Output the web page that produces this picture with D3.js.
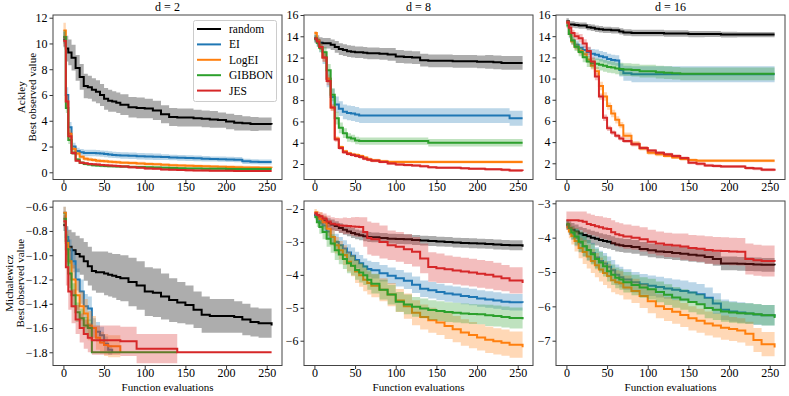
<!DOCTYPE html>
<html><head><meta charset="utf-8">
<script src="https://cdn.jsdelivr.net/npm/d3@7"></script>
<style>body{margin:0;background:#fff} svg text{font-family:'Liberation Serif','Times New Roman',Times,'DejaVu Serif',serif !important;fill:#000}</style>
</head><body><svg id="c" width="789" height="396"></svg>
<script>
const evals=[0,3,6,10,15,20,25,30,35,40,45,50,55,60,65,70,80,90,100,110,120,130,140,150,160,170,180,190,200,210,220,230,240,256];
const methods=["random","EI","LogEI","GIBBON","JES"];
const colors=["#000000","#1f77b4","#ff7f0e","#2ca02c","#d62728"];
const dimTitles=["d = 2","d = 8","d = 16"];
const funcNames=["Ackley","Michalewicz"];
const xTicks=[0,50,100,150,200,250];
const yTicksAckley2=[0,2,4,6,8,10,12];
const yTicksAckley8=[2,4,6,8,10,12,14,16];
const yTicksAckley16=[2,4,6,8,10,12,14,16];
const yTicksMich2=[-1.8,-1.6,-1.4,-1.2,-1.0,-0.8,-0.6];
const yTicksMich8=[-6,-5,-4,-3,-2];
const yTicksMich16=[-7,-6,-5,-4,-3];

// Ackley d=2 (means, half-widths) in order random, EI, LogEI, GIBBON, JES
const ack2Mean=[
[10.3,9.6,9.3,8.9,8.1,7.4,6.7,6.6,6.4,6.25,6.0,5.7,5.55,5.5,5.4,5.25,5.05,5.0,4.95,4.8,4.5,4.3,4.25,4.25,4.2,4.15,4.1,4.05,3.95,3.85,3.8,3.75,3.75,3.7],
[10.5,6.0,3.5,2.0,1.65,1.55,1.5,1.5,1.5,1.48,1.45,1.42,1.38,1.35,1.33,1.3,1.28,1.25,1.22,1.2,1.18,1.15,1.12,1.1,1.08,1.05,1.03,1.02,1.0,0.98,0.85,0.82,0.8,0.8],
[11.0,5.5,3.0,1.8,1.45,1.2,1.05,1.0,0.95,0.9,0.88,0.85,0.82,0.8,0.78,0.75,0.72,0.68,0.65,0.62,0.58,0.55,0.52,0.5,0.48,0.46,0.45,0.43,0.42,0.4,0.38,0.37,0.36,0.35],
[10.5,5.0,2.5,1.5,1.0,0.75,0.65,0.6,0.55,0.52,0.5,0.48,0.47,0.46,0.45,0.44,0.42,0.41,0.4,0.38,0.36,0.34,0.32,0.3,0.29,0.28,0.27,0.27,0.26,0.26,0.25,0.25,0.25,0.25],
[10.2,5.5,2.8,1.5,0.9,0.75,0.7,0.65,0.62,0.6,0.57,0.55,0.53,0.5,0.48,0.45,0.4,0.35,0.3,0.27,0.22,0.2,0.18,0.15,0.14,0.13,0.12,0.12,0.11,0.1,0.1,0.1,0.1,0.1]];
const ack2Err=[
[0.6,1.0,1.0,1.0,1.0,1.0,0.95,0.9,0.9,0.9,0.85,0.85,0.85,0.8,0.8,0.8,0.8,0.8,0.75,0.75,0.7,0.7,0.7,0.7,0.65,0.65,0.65,0.6,0.6,0.6,0.55,0.55,0.5,0.5],
[0.5,0.6,0.4,0.3,0.25,0.25,0.25,0.25,0.25,0.25,0.25,0.25,0.25,0.25,0.25,0.25,0.25,0.25,0.25,0.25,0.22,0.22,0.22,0.22,0.22,0.22,0.2,0.2,0.2,0.2,0.2,0.2,0.2,0.2],
[0.6,0.5,0.3,0.2,0.15,0.15,0.15,0.15,0.15,0.15,0.14,0.14,0.14,0.14,0.13,0.13,0.13,0.13,0.13,0.12,0.12,0.12,0.12,0.12,0.12,0.12,0.12,0.12,0.12,0.12,0.12,0.12,0.12,0.12],
[0.5,0.4,0.3,0.15,0.1,0.1,0.1,0.1,0.1,0.1,0.1,0.1,0.1,0.1,0.1,0.1,0.1,0.1,0.1,0.1,0.1,0.1,0.1,0.1,0.1,0.1,0.1,0.1,0.1,0.1,0.1,0.1,0.1,0.1],
[0.4,0.5,0.3,0.15,0.1,0.1,0.1,0.1,0.1,0.1,0.1,0.1,0.1,0.1,0.1,0.1,0.1,0.1,0.1,0.1,0.08,0.08,0.08,0.08,0.08,0.08,0.08,0.08,0.08,0.08,0.08,0.08,0.08,0.08]];

// Ackley d=8
const ack8Mean=[
[13.8,13.6,13.4,13.35,13.35,13.2,13.0,12.8,12.7,12.6,12.55,12.5,12.5,12.45,12.4,12.4,12.35,12.3,12.1,12.05,12.0,11.75,11.7,11.7,11.7,11.65,11.65,11.65,11.6,11.6,11.55,11.5,11.5,11.5],
[13.8,13.4,13.0,12.0,10.0,8.3,7.6,7.2,6.9,6.8,6.75,6.65,6.55,6.55,6.55,6.55,6.55,6.55,6.55,6.55,6.55,6.55,6.55,6.55,6.55,6.55,6.55,6.55,6.55,6.55,6.55,6.55,6.3,6.3],
[14.3,13.6,13.0,12.0,10.0,7.3,4.4,3.6,3.2,3.0,2.9,2.85,2.75,2.6,2.45,2.35,2.25,2.2,2.2,2.2,2.2,2.2,2.2,2.2,2.2,2.2,2.2,2.2,2.2,2.2,2.2,2.2,2.2,2.2],
[13.8,13.4,12.9,12.5,10.8,8.5,6.3,5.4,4.9,4.5,4.4,4.2,4.15,4.15,4.15,4.15,4.15,4.15,4.15,4.15,4.15,4.15,4.0,4.0,4.0,4.0,4.0,4.0,4.0,4.0,4.0,4.0,4.0,4.0],
[13.8,13.5,13.0,12.0,9.8,7.3,4.3,3.5,3.1,2.95,2.85,2.75,2.65,2.5,2.4,2.3,2.2,2.05,1.95,1.9,1.85,1.8,1.7,1.65,1.65,1.65,1.6,1.55,1.55,1.5,1.5,1.45,1.4,1.35]];
const ack8Err=[
[0.4,0.5,0.5,0.5,0.5,0.5,0.55,0.55,0.55,0.55,0.55,0.55,0.55,0.55,0.55,0.55,0.55,0.6,0.6,0.6,0.6,0.6,0.6,0.6,0.6,0.6,0.6,0.6,0.6,0.65,0.65,0.65,0.65,0.65],
[0.3,0.4,0.5,0.6,0.8,0.8,0.75,0.7,0.7,0.7,0.7,0.7,0.7,0.7,0.7,0.7,0.7,0.7,0.7,0.7,0.7,0.7,0.7,0.7,0.7,0.7,0.7,0.7,0.7,0.7,0.7,0.7,0.7,0.7],
[0.2,0.3,0.3,0.4,0.4,0.3,0.2,0.15,0.15,0.15,0.15,0.15,0.15,0.15,0.15,0.15,0.15,0.15,0.15,0.15,0.15,0.15,0.15,0.15,0.15,0.15,0.15,0.15,0.15,0.15,0.15,0.15,0.15,0.15],
[0.3,0.4,0.4,0.5,0.6,0.6,0.6,0.5,0.45,0.4,0.35,0.35,0.35,0.35,0.35,0.35,0.35,0.35,0.35,0.35,0.35,0.35,0.35,0.35,0.35,0.35,0.35,0.35,0.35,0.35,0.35,0.35,0.35,0.35],
[0.2,0.3,0.3,0.4,0.4,0.3,0.2,0.15,0.15,0.15,0.15,0.15,0.15,0.15,0.15,0.14,0.14,0.13,0.13,0.13,0.12,0.12,0.12,0.12,0.12,0.12,0.12,0.12,0.12,0.12,0.12,0.12,0.12,0.12]];

// Ackley d=16
const ack16Mean=[
[15.4,15.1,15.1,15.05,15.0,15.0,14.85,14.8,14.7,14.65,14.6,14.6,14.55,14.55,14.45,14.35,14.3,14.3,14.3,14.3,14.25,14.25,14.25,14.2,14.2,14.2,14.2,14.15,14.15,14.15,14.15,14.15,14.15,14.15],
[15.3,14.2,13.6,13.2,12.9,12.7,12.5,12.35,12.25,12.1,12.0,11.85,11.75,11.7,10.8,10.5,10.4,10.4,10.4,10.4,10.4,10.4,10.4,10.4,10.4,10.4,10.4,10.4,10.4,10.4,10.4,10.4,10.4,10.4],
[15.3,14.2,13.5,13.0,12.6,12.3,11.8,11.2,10.7,9.3,8.3,7.4,6.7,6.1,5.6,4.6,3.85,3.4,3.0,2.85,2.7,2.55,2.4,2.3,2.25,2.25,2.25,2.25,2.25,2.25,2.25,2.25,2.25,2.25],
[15.0,14.2,13.6,13.0,12.5,12.0,11.6,11.45,11.4,11.3,11.2,11.1,11.05,10.95,10.9,10.85,10.8,10.7,10.7,10.6,10.55,10.5,10.45,10.45,10.45,10.45,10.45,10.45,10.45,10.45,10.45,10.45,10.45,10.45],
[15.3,14.8,14.3,14.0,13.8,13.3,12.6,11.6,10.2,8.3,6.3,5.3,4.9,4.6,4.35,4.1,3.8,3.45,3.2,3.0,2.85,2.7,2.5,2.05,1.95,1.8,1.75,1.7,1.7,1.7,1.55,1.5,1.4,1.3]];
const ack16Err=[
[0.3,0.3,0.3,0.3,0.3,0.3,0.3,0.3,0.3,0.3,0.3,0.3,0.3,0.3,0.3,0.3,0.3,0.3,0.3,0.3,0.3,0.3,0.3,0.3,0.3,0.28,0.28,0.28,0.28,0.25,0.25,0.25,0.25,0.25],
[0.2,0.4,0.4,0.4,0.4,0.4,0.45,0.45,0.5,0.5,0.5,0.5,0.5,0.5,0.6,0.7,0.75,0.75,0.75,0.75,0.75,0.75,0.75,0.75,0.75,0.75,0.75,0.75,0.75,0.75,0.75,0.75,0.75,0.75],
[0.2,0.3,0.3,0.3,0.3,0.3,0.3,0.35,0.4,0.4,0.4,0.35,0.35,0.35,0.3,0.3,0.25,0.2,0.2,0.18,0.15,0.15,0.15,0.15,0.15,0.15,0.15,0.15,0.15,0.15,0.15,0.15,0.15,0.15],
[0.2,0.3,0.35,0.4,0.4,0.45,0.5,0.5,0.5,0.55,0.55,0.55,0.55,0.55,0.6,0.6,0.6,0.6,0.6,0.6,0.6,0.6,0.6,0.6,0.6,0.6,0.6,0.6,0.6,0.6,0.6,0.6,0.6,0.6],
[0.2,0.25,0.3,0.35,0.4,0.4,0.4,0.4,0.35,0.3,0.3,0.25,0.2,0.2,0.2,0.18,0.18,0.15,0.15,0.15,0.15,0.15,0.15,0.15,0.15,0.15,0.15,0.15,0.15,0.15,0.15,0.15,0.15,0.15]];

// Michalewicz d=2
const mic2Mean=[
[-0.75,-0.88,-0.93,-0.96,-0.99,-1.01,-1.05,-1.09,-1.13,-1.14,-1.14,-1.15,-1.16,-1.17,-1.18,-1.19,-1.22,-1.25,-1.3,-1.31,-1.34,-1.37,-1.39,-1.41,-1.45,-1.49,-1.5,-1.5,-1.5,-1.51,-1.53,-1.55,-1.56,-1.58],
[-0.65,-0.85,-0.95,-1.05,-1.2,-1.3,-1.42,-1.44,-1.6,-1.63,-1.66,-1.73,-1.78,-1.8,null,null,null,null,null,null,null,null,null,null,null,null,null,null,null,null,null,null,null,null],
[-0.65,-0.9,-1.05,-1.2,-1.33,-1.42,-1.48,-1.58,-1.6,-1.68,-1.72,-1.74,-1.75,-1.75,-1.75,-1.8,null,null,null,null,null,null,null,null,null,null,null,null,null,null,null,null,null,null],
[-0.7,-0.95,-1.15,-1.33,-1.47,-1.52,-1.58,-1.6,-1.8,-1.8,-1.8,-1.8,-1.8,-1.8,-1.8,-1.8,-1.8,-1.8,-1.8,-1.8,-1.8,-1.8,-1.8,null,null,null,null,null,null,null,null,null,null,null],
[-0.72,-1.1,-1.3,-1.42,-1.53,-1.6,-1.65,-1.68,-1.7,-1.7,-1.7,-1.7,-1.7,-1.7,-1.7,-1.71,-1.71,-1.77,-1.77,-1.77,-1.77,-1.77,-1.8,-1.8,-1.8,-1.8,-1.8,-1.8,-1.8,-1.8,-1.8,-1.8,-1.8,-1.8]];
const mic2Err=[
[0.05,0.12,0.14,0.15,0.15,0.15,0.16,0.16,0.16,0.17,0.17,0.18,0.18,0.18,0.19,0.19,0.2,0.2,0.2,0.2,0.19,0.18,0.17,0.16,0.15,0.15,0.14,0.14,0.14,0.13,0.13,0.12,0.12,0.12],
[0.05,0.08,0.08,0.09,0.09,0.1,0.1,0.1,0.08,0.08,0.07,0.06,0.04,0.0,null,null,null,null,null,null,null,null,null,null,null,null,null,null,null,null,null,null,null,null],
[0.05,0.1,0.12,0.12,0.12,0.12,0.12,0.12,0.1,0.1,0.09,0.09,0.09,0.09,0.09,0.0,null,null,null,null,null,null,null,null,null,null,null,null,null,null,null,null,null,null],
[0.05,0.12,0.12,0.1,0.08,0.08,0.07,0.07,0.0,0.0,0.0,0.0,0.0,0.0,0.0,0.0,0.0,0.0,0.0,0.0,0.0,0.0,0.0,null,null,null,null,null,null,null,null,null,null,null],
[0.05,0.15,0.15,0.14,0.12,0.12,0.12,0.12,0.12,0.12,0.12,0.12,0.12,0.12,0.12,0.12,0.12,0.12,0.12,0.12,0.12,0.12,0.0,0.0,0.0,0.0,0.0,0.0,0.0,0.0,0.0,0.0,0.0,0.0]];

// Michalewicz d=8
const mic8Mean=[
[-2.18,-2.25,-2.3,-2.35,-2.42,-2.47,-2.52,-2.58,-2.63,-2.68,-2.73,-2.77,-2.8,-2.83,-2.85,-2.86,-2.88,-2.9,-2.91,-2.92,-2.94,-2.96,-2.97,-2.99,-3.0,-3.02,-3.03,-3.04,-3.05,-3.06,-3.08,-3.09,-3.1,-3.15],
[-2.18,-2.3,-2.42,-2.5,-2.68,-2.85,-3.0,-3.1,-3.2,-3.32,-3.42,-3.55,-3.65,-3.75,-3.82,-3.86,-3.95,-4.03,-4.1,-4.18,-4.3,-4.42,-4.47,-4.52,-4.57,-4.6,-4.64,-4.67,-4.72,-4.75,-4.78,-4.82,-4.83,-4.85],
[-2.1,-2.2,-2.3,-2.4,-2.6,-2.85,-3.1,-3.25,-3.4,-3.6,-3.72,-3.9,-4.01,-4.15,-4.25,-4.33,-4.45,-4.6,-4.78,-4.95,-5.15,-5.28,-5.38,-5.45,-5.55,-5.65,-5.75,-5.83,-5.9,-5.97,-6.02,-6.06,-6.12,-6.2],
[-2.24,-2.4,-2.55,-2.7,-2.9,-3.05,-3.25,-3.38,-3.52,-3.65,-3.72,-3.85,-3.93,-4.01,-4.15,-4.27,-4.45,-4.6,-4.82,-4.9,-4.97,-5.02,-5.07,-5.1,-5.13,-5.15,-5.17,-5.19,-5.2,-5.23,-5.25,-5.28,-5.31,-5.35],
[-2.13,-2.18,-2.22,-2.29,-2.38,-2.45,-2.47,-2.5,-2.51,-2.52,-2.53,-2.54,-2.55,-2.7,-2.88,-2.92,-3.0,-3.1,-3.15,-3.22,-3.3,-3.5,-3.76,-3.8,-3.83,-3.87,-3.9,-3.93,-3.97,-4.0,-4.05,-4.1,-4.17,-4.25]];
const mic8Err=[
[0.05,0.1,0.12,0.13,0.14,0.15,0.15,0.15,0.15,0.15,0.15,0.15,0.15,0.15,0.15,0.15,0.15,0.15,0.15,0.15,0.15,0.15,0.15,0.15,0.15,0.15,0.15,0.15,0.15,0.15,0.15,0.15,0.15,0.15],
[0.05,0.1,0.15,0.2,0.22,0.25,0.25,0.25,0.25,0.25,0.25,0.25,0.25,0.25,0.25,0.25,0.25,0.25,0.25,0.25,0.25,0.25,0.25,0.25,0.25,0.25,0.25,0.25,0.25,0.25,0.25,0.25,0.25,0.25],
[0.1,0.15,0.2,0.2,0.22,0.25,0.25,0.28,0.3,0.3,0.32,0.35,0.35,0.35,0.35,0.35,0.35,0.35,0.35,0.38,0.38,0.38,0.38,0.38,0.4,0.4,0.4,0.4,0.4,0.4,0.4,0.4,0.4,0.4],
[0.05,0.15,0.2,0.22,0.25,0.28,0.3,0.3,0.3,0.3,0.3,0.3,0.3,0.3,0.3,0.3,0.3,0.3,0.3,0.3,0.3,0.3,0.3,0.3,0.3,0.3,0.3,0.3,0.3,0.32,0.32,0.32,0.32,0.32],
[0.05,0.1,0.12,0.15,0.18,0.2,0.2,0.22,0.25,0.25,0.28,0.3,0.3,0.45,0.5,0.5,0.5,0.45,0.45,0.45,0.45,0.45,0.45,0.45,0.42,0.42,0.42,0.42,0.42,0.42,0.42,0.4,0.4,0.4]];

// Michalewicz d=16
const mic16Mean=[
[-3.63,-3.72,-3.77,-3.82,-3.88,-3.92,-3.96,-4.0,-4.03,-4.07,-4.1,-4.12,-4.16,-4.2,-4.22,-4.24,-4.27,-4.33,-4.37,-4.4,-4.42,-4.45,-4.47,-4.5,-4.52,-4.56,-4.62,-4.75,-4.75,-4.76,-4.77,-4.78,-4.79,-4.8],
[-3.63,-3.75,-3.87,-4.0,-4.15,-4.25,-4.37,-4.45,-4.58,-4.68,-4.75,-4.85,-4.95,-5.08,-5.15,-5.22,-5.3,-5.36,-5.4,-5.44,-5.48,-5.52,-5.55,-5.6,-5.65,-5.75,-5.92,-6.1,-6.15,-6.18,-6.21,-6.24,-6.26,-6.3],
[-3.68,-3.82,-3.95,-4.1,-4.3,-4.42,-4.55,-4.68,-4.8,-4.93,-5.03,-5.12,-5.24,-5.3,-5.33,-5.45,-5.55,-5.7,-5.85,-6.0,-6.08,-6.16,-6.25,-6.35,-6.42,-6.5,-6.56,-6.62,-6.66,-6.7,-6.8,-6.98,-7.1,-7.2],
[-3.6,-3.72,-3.85,-3.97,-4.12,-4.25,-4.36,-4.48,-4.62,-4.72,-4.83,-4.98,-5.08,-5.17,-5.22,-5.3,-5.38,-5.45,-5.5,-5.58,-5.66,-5.74,-5.8,-5.87,-5.94,-6.05,-6.1,-6.15,-6.18,-6.2,-6.21,-6.23,-6.26,-6.34],
[-3.49,-3.49,-3.49,-3.49,-3.51,-3.54,-3.6,-3.63,-3.67,-3.7,-3.73,-3.75,-3.84,-3.9,-3.93,-3.97,-4.0,-4.05,-4.12,-4.17,-4.21,-4.23,-4.26,-4.3,-4.32,-4.36,-4.38,-4.39,-4.4,-4.41,-4.62,-4.66,-4.68,-4.7]];
const mic16Err=[
[0.15,0.2,0.2,0.2,0.2,0.2,0.2,0.2,0.2,0.2,0.2,0.2,0.2,0.2,0.2,0.2,0.2,0.2,0.2,0.2,0.2,0.2,0.2,0.2,0.2,0.2,0.2,0.2,0.2,0.2,0.2,0.2,0.2,0.2],
[0.1,0.15,0.2,0.25,0.28,0.3,0.3,0.3,0.3,0.3,0.3,0.3,0.3,0.3,0.3,0.3,0.3,0.3,0.3,0.3,0.3,0.3,0.3,0.3,0.3,0.3,0.3,0.3,0.3,0.3,0.3,0.3,0.3,0.3],
[0.1,0.2,0.25,0.3,0.3,0.35,0.35,0.35,0.35,0.35,0.35,0.35,0.35,0.35,0.35,0.35,0.35,0.35,0.35,0.35,0.35,0.35,0.35,0.35,0.35,0.35,0.35,0.35,0.35,0.35,0.35,0.35,0.35,0.35],
[0.1,0.15,0.2,0.25,0.3,0.3,0.3,0.3,0.3,0.3,0.3,0.3,0.3,0.3,0.3,0.3,0.3,0.3,0.3,0.3,0.3,0.3,0.3,0.3,0.3,0.3,0.3,0.3,0.3,0.3,0.3,0.3,0.3,0.3],
[0.25,0.25,0.25,0.25,0.27,0.3,0.3,0.3,0.3,0.32,0.32,0.32,0.35,0.35,0.35,0.35,0.35,0.35,0.35,0.35,0.35,0.35,0.38,0.38,0.38,0.4,0.4,0.4,0.4,0.4,0.45,0.45,0.45,0.45]];

const panels=[
 {row:0,col:0,mean:ack2Mean,err:ack2Err,ticks:yTicksAckley2,dom:[-0.56,12.21],fmt:d3.format("d")},
 {row:0,col:1,mean:ack8Mean,err:ack8Err,ticks:yTicksAckley8,dom:[0.544,16.0],fmt:d3.format("d")},
 {row:0,col:2,mean:ack16Mean,err:ack16Err,ticks:yTicksAckley16,dom:[0.47,16.0],fmt:d3.format("d")},
 {row:1,col:0,mean:mic2Mean,err:mic2Err,ticks:yTicksMich2,dom:[-1.909,-0.553],fmt:d3.format(".1f")},
 {row:1,col:1,mean:mic8Mean,err:mic8Err,ticks:yTicksMich8,dom:[-6.753,-1.757],fmt:d3.format("d")},
 {row:1,col:2,mean:mic16Mean,err:mic16Err,ticks:yTicksMich16,dom:[-7.722,-2.933],fmt:d3.format("d")}
];

const FONT="'Liberation Serif','Times New Roman',Times,'DejaVu Serif',serif";
const svg=d3.select("#c").attr("font-family",FONT);
const colLeft=[53,304,556], pw=229;
const rowTop=[15,201], ph=164.5;
const minus=s=>s.replace("-","\u2212");

panels.forEach((p,pi)=>{
  const x0=colLeft[p.col], y0=rowTop[p.row];
  const x=d3.scaleLinear().domain([-12.8,268.8]).range([x0,x0+pw]);
  const y=d3.scaleLinear().domain(p.dom).range([y0+ph,y0]);
  const cid="clip"+pi;
  svg.append("clipPath").attr("id",cid).append("rect").attr("x",x0).attr("y",y0).attr("width",pw).attr("height",ph);
  const g=svg.append("g").attr("clip-path",`url(#${cid})`);
  methods.forEach((m,mi)=>{
    const data=evals.map((e,i)=>({e,v:p.mean[mi][i],s:p.err[mi][i]}));
    const area=d3.area().defined(d=>d.v!=null).curve(d3.curveStepAfter)
      .x(d=>x(d.e)).y0(d=>y(d.v-d.s)).y1(d=>y(d.v+d.s));
    const line=d3.line().defined(d=>d.v!=null).curve(d3.curveStepAfter)
      .x(d=>x(d.e)).y(d=>y(d.v));
    g.append("path").datum(data).attr("d",area).attr("fill",colors[mi]).attr("fill-opacity",mi===0?0.32:0.3);
    g.append("path").datum(data).attr("d",line).attr("fill","none").attr("stroke",colors[mi]).attr("stroke-width",2);
  });
  const ax=svg.append("g").attr("transform",`translate(0,${y0+ph})`)
    .call(d3.axisBottom(x).tickValues(xTicks).tickSize(3.5).tickPadding(1).tickFormat(d3.format("d")));
  ax.selectAll("text").attr("dy","0.62em");
  const ay=svg.append("g").attr("transform",`translate(${x0},0)`)
    .call(d3.axisLeft(y).tickValues(p.ticks).tickSize(3.5).tickPadding(2).tickFormat(d=>minus(p.fmt(d))));
  [ax,ay].forEach(a=>{a.attr("font-family",FONT).attr("font-size",12);
    a.select(".domain").remove();
    a.selectAll("text").attr("fill","#000");
    a.selectAll("line").attr("stroke","#333");});
  svg.append("rect").attr("x",x0).attr("y",y0).attr("width",pw).attr("height",ph)
    .attr("fill","none").attr("stroke","#444").attr("stroke-width",1);
  if(p.row===0){
    svg.append("text").attr("x",x0+pw/2).attr("y",y0-4).attr("text-anchor","middle").attr("font-size",12).text(dimTitles[p.col]);
  } else {
    svg.append("text").attr("x",x0+pw/2).attr("y",391).attr("text-anchor","middle").attr("font-size",11).text("Function evaluations");
  }
  if(p.col===0){
    const cx = p.row===0 ? 21 : 9, cy=y0+ph/2;
    const t=svg.append("text").attr("transform",`translate(${cx+4},${cy}) rotate(-90)`).attr("text-anchor","middle").attr("font-size",11);
    t.append("tspan").attr("x",0).attr("dy",0).text(funcNames[p.row]);
    t.append("tspan").attr("x",0).attr("dy",11).text("Best observed value");
  }
});

const lg=svg.append("g");
lg.append("rect").attr("x",193.5).attr("y",20.5).attr("width",83).attr("height",81).attr("rx",2)
  .attr("fill","#fff").attr("fill-opacity",0.85).attr("stroke","#ccc");
methods.forEach((m,i)=>{
  const yy=29+i*15.4;
  lg.append("line").attr("x1",197).attr("x2",221).attr("y1",yy).attr("y2",yy).attr("stroke",colors[i]).attr("stroke-width",2);
  lg.append("text").attr("x",229).attr("y",yy+4).attr("font-size",11.5).text(m);
});
</script></body></html>
